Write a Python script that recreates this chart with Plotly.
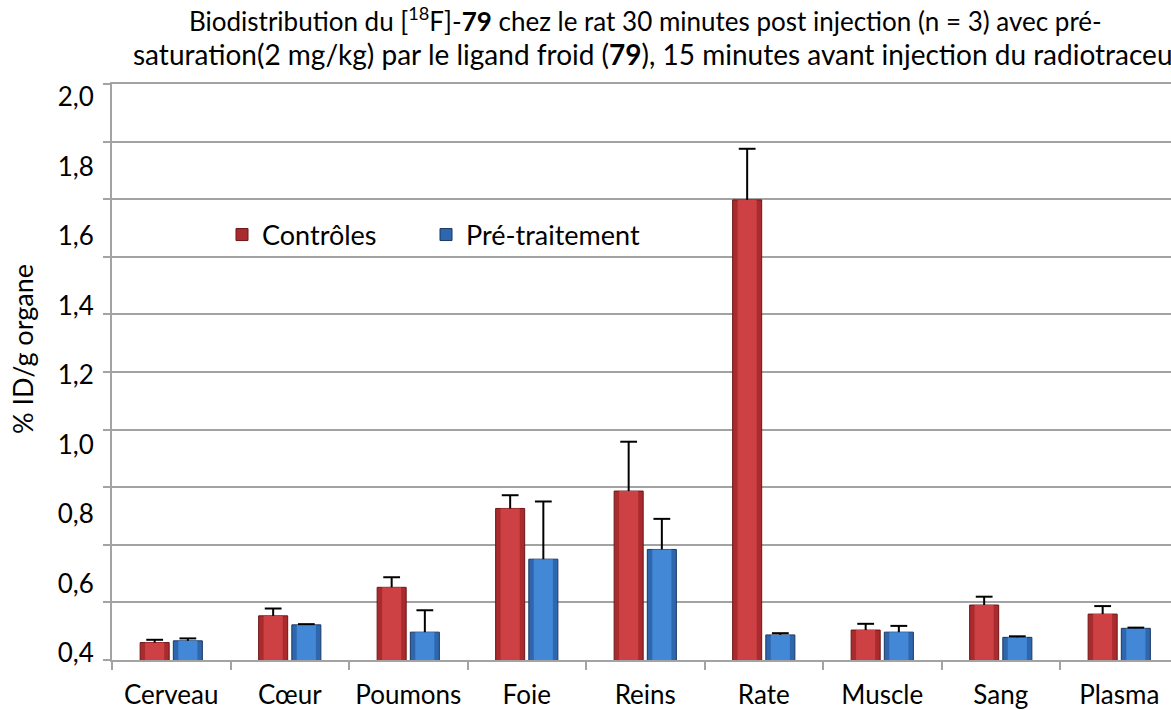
import numpy as np
import plotly.graph_objects as go

# Organs (x categories)
organs = ["Cerveau", "Cœur", "Poumons", "Foie", "Reins", "Rate", "Muscle", "Sang", "Plasma"]

# % ID/g organe, mean values
controles = [0.430, 0.507, 0.589, 0.816, 0.866, 1.704, 0.466, 0.538, 0.512]
pretraitement = [0.435, 0.481, 0.460, 0.670, 0.698, 0.452, 0.460, 0.445, 0.471]

# upper error (SD)
err_controles = [0.008, 0.021, 0.029, 0.038, 0.142, 0.147, 0.018, 0.024, 0.023]
err_pretraitement = [0.007, 0.002, 0.063, 0.166, 0.088, 0.005, 0.018, 0.003, 0.002]

# y tick labels
ytick_vals = [0.4, 0.6, 0.8, 1.0, 1.2, 1.4, 1.6, 1.8, 2.0]
ytick_text = ["0,4", "0,6", "0,8", "1,0", "1,2", "1,4", "1,6", "1,8", "2,0"]

FONT = "Lato"
W, H = 1171, 710
ML, MR, MT, MB = 112, 0, 84, 50
BAR_W = 0.245
OFFSET = 0.14

GRID = "#A3A3A3"

idx = np.arange(len(organs))


def px_to_paper_x(px):
    return (px - ML) / (W - ML - MR)


def px_to_paper_y(py):
    return (H - MB - py) / (H - MT - MB)


fig = go.Figure()

# name, values, errors, x offset, edge shade, centre shade, outline, legend id
series = [
    ("Contrôles", controles, err_controles, -OFFSET,
     "#A92B2E", "#CD4144", "#6E1616", "legend"),
    ("Pré-traitement", pretraitement, err_pretraitement, OFFSET,
     "#2E67AD", "#4288D6", "#1B3763", "legend2"),
]

# bars: darker body with a lighter centre band (bevelled look)
for name, vals, errs, off, dark, light, edge, leg in series:
    xs = idx + off
    fig.add_trace(go.Bar(
        x=xs, y=vals, width=BAR_W, name=name, legend=leg,
        marker=dict(color=dark, line=dict(color=edge, width=1)),
        xaxis="x", yaxis="y",
    ))
for name, vals, errs, off, dark, light, edge, leg in series:
    xs = idx + off
    fig.add_trace(go.Bar(
        x=xs, y=vals, width=BAR_W * 0.66, showlegend=False,
        marker=dict(color=light, line=dict(width=0)),
        hoverinfo="skip", xaxis="x", yaxis="y",
    ))

# upper error bars: stem plus a cap
for name, vals, errs, off, dark, light, edge, leg in series:
    xs = idx + off
    fig.add_trace(go.Scatter(
        x=xs, y=vals, mode="markers",
        marker=dict(size=1, color="rgba(0,0,0,0)"),
        error_y=dict(type="data", symmetric=False, array=errs,
                     arrayminus=[0] * len(errs), color="black",
                     thickness=2, width=0),
        showlegend=False, hoverinfo="skip", xaxis="x", yaxis="y",
    ))
    fig.add_trace(go.Scatter(
        x=xs, y=np.array(vals) + np.array(errs), mode="markers",
        marker=dict(symbol="line-ew", size=12, color="black",
                    line=dict(color="black", width=2)),
        showlegend=False, hoverinfo="skip", xaxis="x", yaxis="y",
    ))

x_range = [-0.5, -0.5 + (W - ML - MR) / 118.5]

legend_style = dict(
    orientation="h", xanchor="left", yanchor="middle",
    font=dict(size=27, family=FONT), bgcolor="rgba(0,0,0,0)",
)

fig.update_layout(
    width=W, height=H,
    margin=dict(l=ML, r=MR, t=MT, b=MB, autoexpand=False),
    paper_bgcolor="white", plot_bgcolor="white",
    font=dict(family=FONT, color="black"),
    barmode="overlay",
    showlegend=True,
    legend=dict(x=px_to_paper_x(222), y=px_to_paper_y(235), **legend_style),
    legend2=dict(x=px_to_paper_x(426), y=px_to_paper_y(235), **legend_style),
    xaxis=dict(
        range=x_range, tickvals=list(idx), ticktext=organs,
        ticks="outside", ticklen=12, tickcolor="rgba(0,0,0,0)",
        tickfont=dict(size=26, family=FONT), automargin=False,
        showgrid=False, zeroline=False, showline=False,
    ),
    xaxis2=dict(
        overlaying="x", range=x_range,
        tickvals=list(np.arange(-0.5, len(organs), 1.0)),
        ticks="outside", ticklen=8, tickwidth=2, tickcolor=GRID,
        showticklabels=False, showgrid=False, zeroline=False,
        showline=True, mirror=True, linecolor=GRID, linewidth=2,
        automargin=False,
    ),
    yaxis=dict(
        range=[0.4 - 7 / 347.5, 2.0 + 13 / 347.5],
        tickvals=ytick_vals, ticktext=ytick_text,
        ticks="outside", ticklen=12, tickcolor="rgba(0,0,0,0)",
        tickfont=dict(size=26, family=FONT), automargin=False,
        showgrid=False, zeroline=False, showline=False,
    ),
    yaxis2=dict(
        overlaying="y", side="left", range=[0, 2.0], dtick=0.2,
        showgrid=True, gridcolor=GRID, gridwidth=2,
        ticks="outside", ticklen=7, tickwidth=2, tickcolor=GRID,
        showticklabels=False, zeroline=False, automargin=False,
        showline=True, linecolor=GRID, linewidth=2,
    ),
    annotations=[
        dict(text="Biodistribution du [<sup>18</sup>F]-<b>79</b> chez le rat 30 minutes post injection (n = 3) avec pré-",
             xref="paper", yref="paper", x=px_to_paper_x(187), y=px_to_paper_y(20),
             xanchor="left", yanchor="middle", showarrow=False,
             font=dict(size=26, family=FONT)),
        dict(text="saturation(2 mg/kg) par le ligand froid (<b>79</b>), 15 minutes avant injection du radiotraceur",
             xref="paper", yref="paper", x=px_to_paper_x(131), y=px_to_paper_y(54),
             xanchor="left", yanchor="middle", showarrow=False,
             font=dict(size=28, family=FONT)),
        dict(text="% ID/g organe", textangle=-90,
             xref="paper", yref="paper", x=px_to_paper_x(22), y=px_to_paper_y(349),
             xanchor="center", yanchor="middle", showarrow=False,
             font=dict(size=27, family=FONT)),
    ],
)

# an empty trace on the secondary axes so they render
fig.add_trace(go.Scatter(x=[None], y=[None], xaxis="x2", yaxis="y2",
                         showlegend=False, hoverinfo="skip"))

fig.write_html("out.html")
